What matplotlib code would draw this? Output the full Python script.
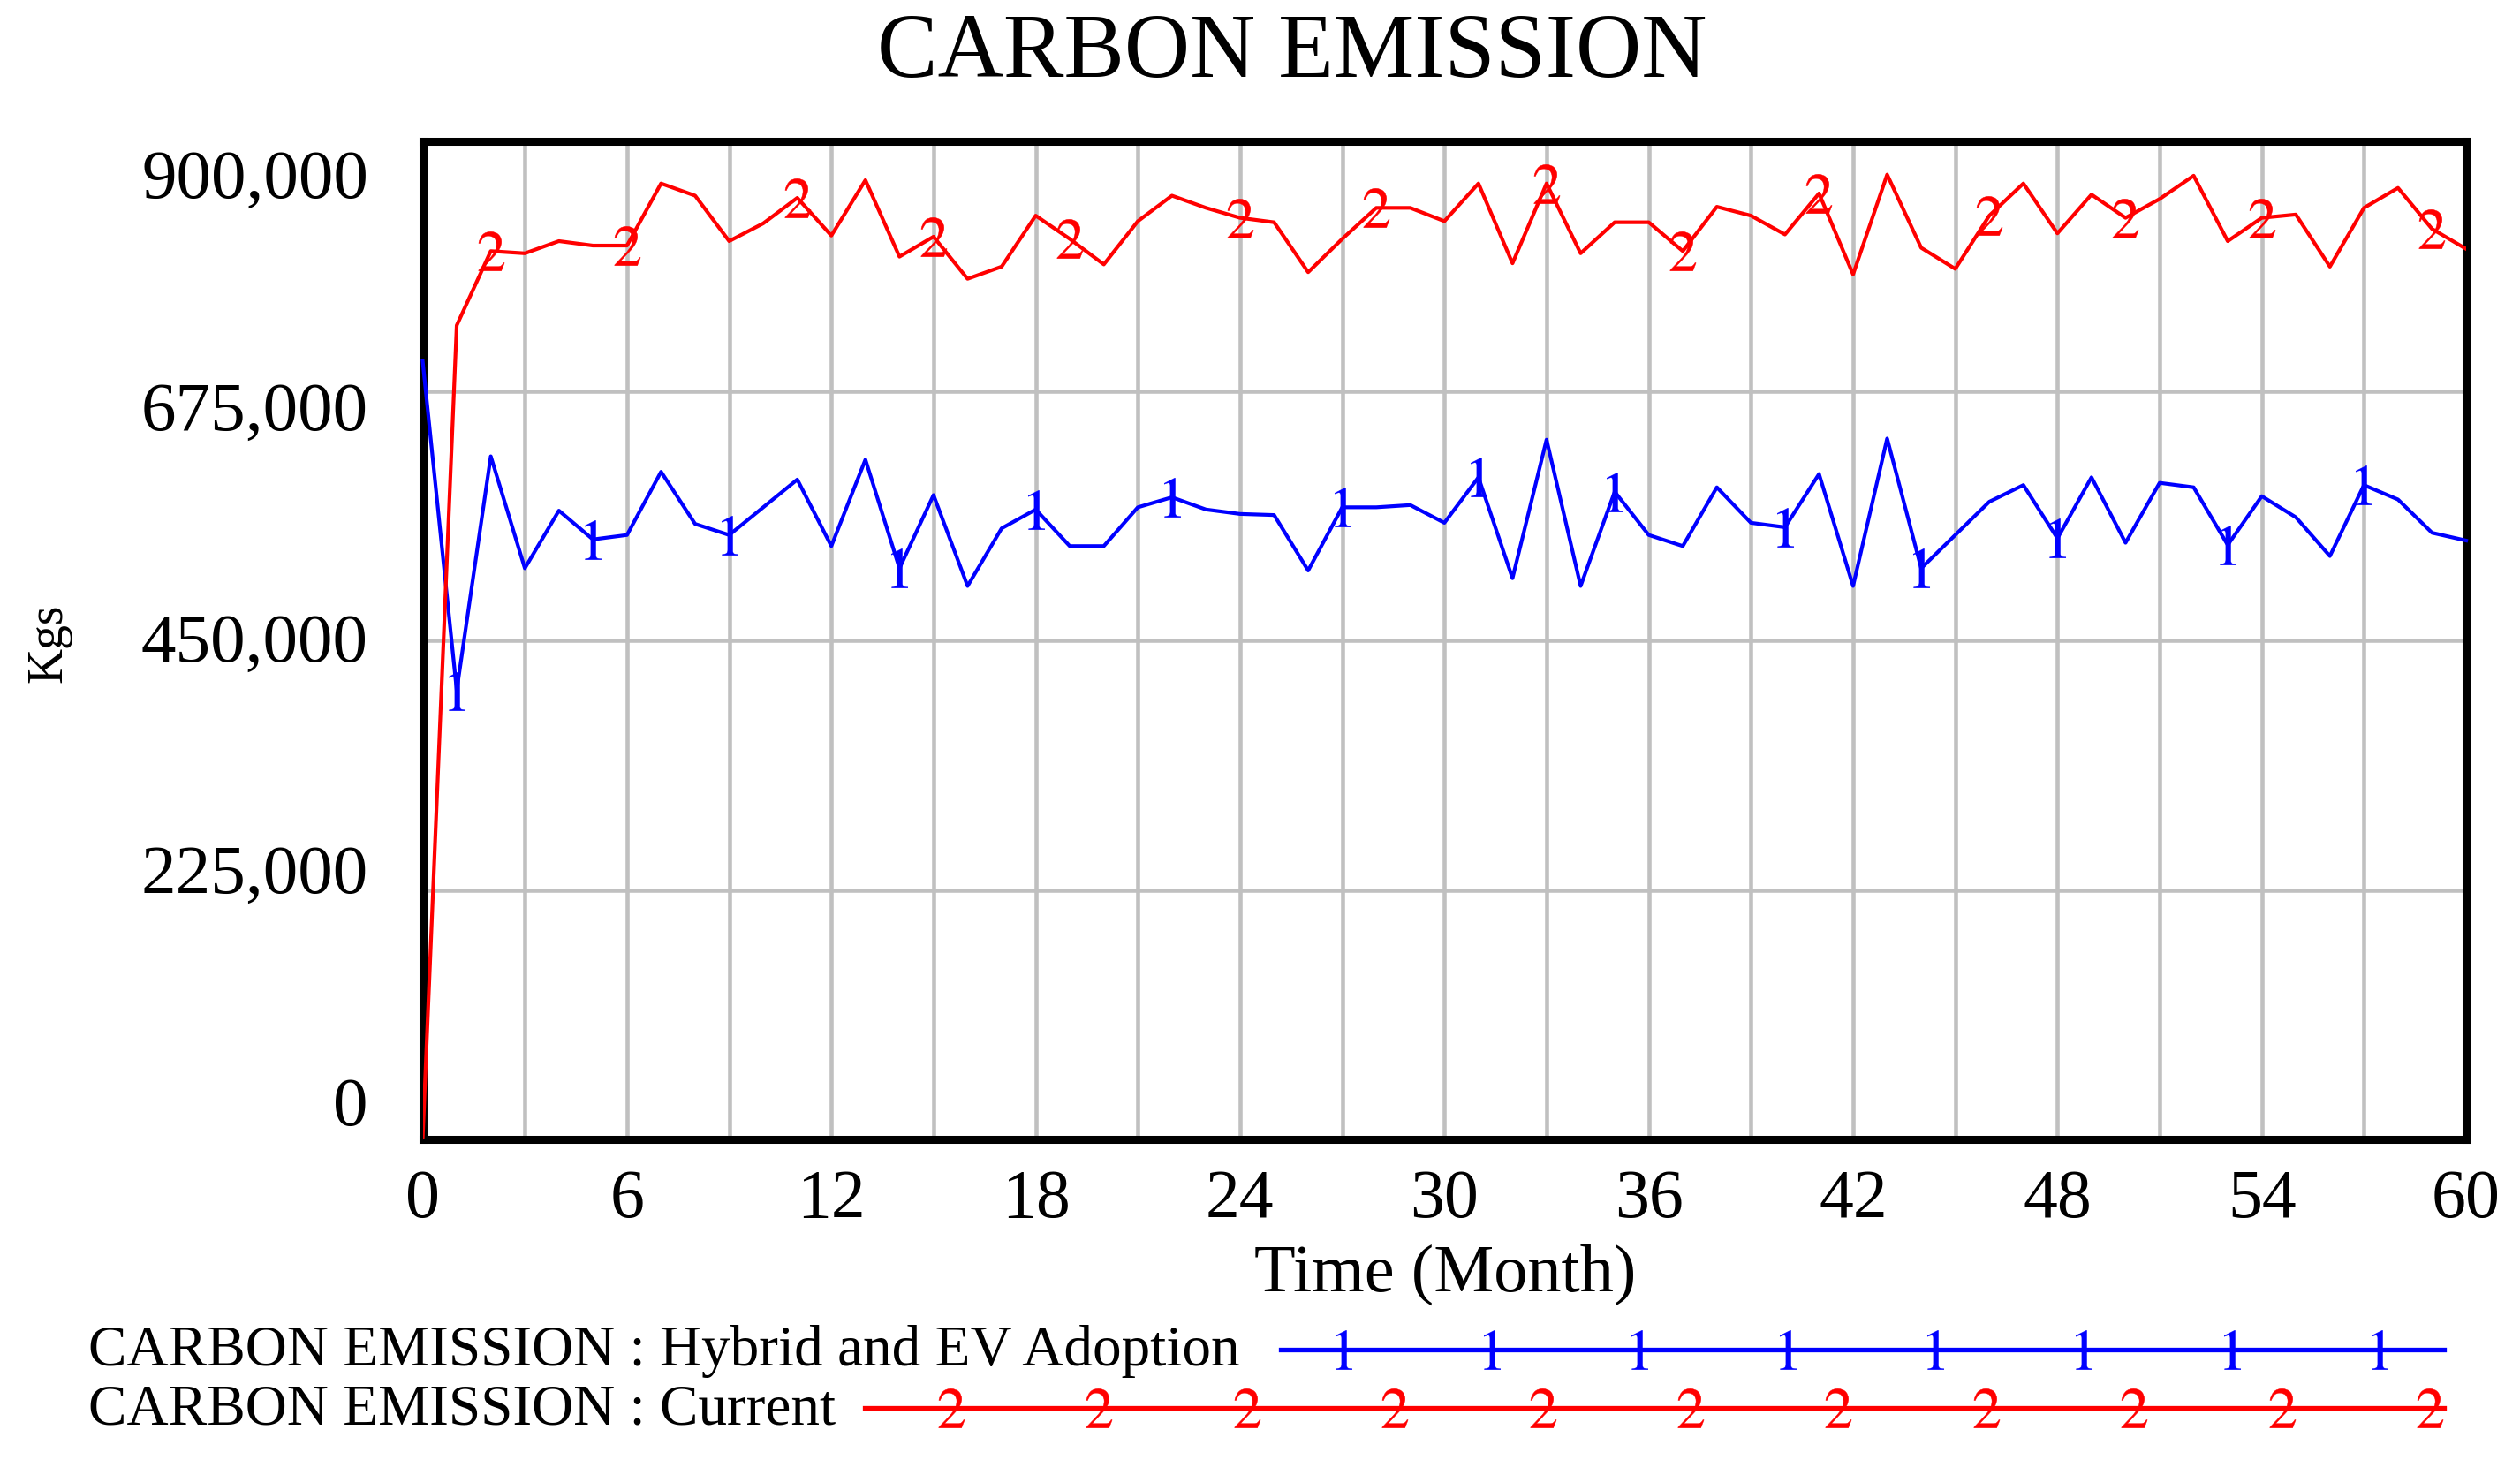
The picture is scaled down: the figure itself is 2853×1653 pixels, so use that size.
import matplotlib
matplotlib.use("Agg")
import matplotlib.pyplot as plt
from matplotlib.lines import Line2D
import numpy as np

plt.rcParams['font.family'] = ['Liberation Serif', 'DejaVu Serif']
plt.rcParams['mathtext.fontset'] = 'stix'

# ---------------- data ----------------
months = list(range(0, 61))
hybrid_ev = [702000, 405000, 616000, 515000, 567000, 541000, 545000, 602000, 555000, 545000,
             570000, 595000, 535000, 613000, 515000, 581000, 499000, 551000, 568000, 535000,
             535000, 570000, 579000, 568000, 564000, 563000, 513000, 570000, 570000, 572000,
             556000, 597000, 506000, 631000, 499000, 584000, 545000, 535000, 588000, 556000,
             552000, 600000, 499000, 632000, 515000, 545000, 575000, 590000, 542000, 597000,
             538000, 592000, 588000, 536000, 580000, 561000, 526000, 590000, 577000, 547000,
             540000]
current = [0, 734000, 801000, 799000, 810000, 806000, 806000, 862000, 851000, 810000,
           826000, 849000, 815000, 865000, 796000, 814000, 776000, 787000, 833000, 812000,
           789000, 828000, 851000, 840000, 831000, 827000, 782000, 812000, 840000, 840000,
           828000, 862000, 790000, 862000, 799000, 827000, 827000, 801000, 841000, 833000,
           816000, 853000, 780000, 870000, 804000, 785000, 833000, 862000, 817000, 852000,
           831000, 848000, 869000, 810000, 831000, 834000, 787000, 840000, 858000, 821000,
           803000]
blue_label_idx = [1, 5, 9, 14, 18, 22, 27, 31, 35, 40, 44, 48, 53, 57]
red_label_idx = [2, 6, 11, 15, 19, 24, 28, 33, 37, 41, 46, 50, 54, 59]
x_ticks = list(range(0, 61, 6))
y_ticks = [0, 225000, 450000, 675000, 900000]
y_tick_labels = ["0", "225,000", "450,000", "675,000", "900,000"]
title = "CARBON EMISSION"
series_names = ["CARBON EMISSION : Hybrid and EV Adoption", "CARBON EMISSION : Current"]

BLUE = "#0000ff"
RED = "#ff0000"
W, H = 2853, 1653

fig = plt.figure(figsize=(W / 100, H / 100), dpi=100)
ax = fig.add_axes([478.5 / W, 1 - 1290 / H, (2792 - 478.5) / W, (1290 - 160) / H])

ax.set_xlim(0, 60)
ax.set_ylim(0, 900000)
ax.set_xticks(range(0, 61, 3), minor=False)
ax.set_yticks(y_ticks)
ax.grid(True, color="#c0c0c0", linewidth=3.3)
ax.set_axisbelow(True)
ax.tick_params(axis='both', length=0, labelleft=False, labelbottom=False)

for s in ax.spines.values():
    s.set_linewidth(6.5)
    s.set_color("black")

MS = 32
ax.plot(months, hybrid_ev, color=BLUE, lw=3.0, marker=r'$\mathrm{1}$', markersize=MS,
        markevery=blue_label_idx, markeredgewidth=0.3, clip_on=False, zorder=3)
ax.plot(months, current, color=RED, lw=3.0, marker=r'$\mathrm{2}$', markersize=MS,
        markevery=red_label_idx, markeredgewidth=0.3, clip_on=True, zorder=3)

# x tick labels
for xt in x_ticks:
    ax.text(xt, -0.030, str(xt), transform=ax.get_xaxis_transform(), ha='center', va='top',
            fontsize=56)
# y tick labels (spread as in the reference)
for v, lab in zip(y_ticks, y_tick_labels):
    frac = 0.031 + v / 900000 * 0.929
    ax.text(-0.0266, frac, lab, transform=ax.transAxes, ha='right', va='center', fontsize=57)

ax.text(-0.183, 0.497, "Kgs", transform=ax.transAxes, rotation=90, ha='center', va='center',
        fontsize=40)
fig.text(0.5735, 1 - 1443 / H, "Time (Month)", ha='center', va='center', fontsize=55)
fig.text(1463 / W, 1 - 62 / H, title, ha='center', va='center', fontsize=74)

# legend
def fx(x):
    return x / W

def fy(y):
    return 1 - y / H

fig.text(fx(100), fy(1530), series_names[0], ha='left', va='center', fontsize=47)
fig.text(fx(100), fy(1597), series_names[1], ha='left', va='center', fontsize=47)

fig.add_artist(Line2D([fx(1450), fx(2767)], [fy(1528), fy(1528)], color=BLUE, lw=3.8,
                      transform=fig.transFigure))
bx = [fx(1521 + k * 167.6) for k in range(8)]
fig.add_artist(Line2D(bx, [fy(1528)] * len(bx), color=BLUE, lw=0, marker=r'$\mathrm{1}$',
                      markersize=MS, markeredgewidth=0.3, transform=fig.transFigure))
fig.add_artist(Line2D([fx(979), fx(2767)], [fy(1594), fy(1594)], color=RED, lw=3.8,
                      transform=fig.transFigure))
rx = [fx(1077 + k * 167.4) for k in range(11)]
fig.add_artist(Line2D(rx, [fy(1594)] * len(rx), color=RED, lw=0, marker=r'$\mathrm{2}$',
                      markersize=MS, markeredgewidth=0.3, transform=fig.transFigure))

fig.savefig("out.png", dpi=100, facecolor="white")
